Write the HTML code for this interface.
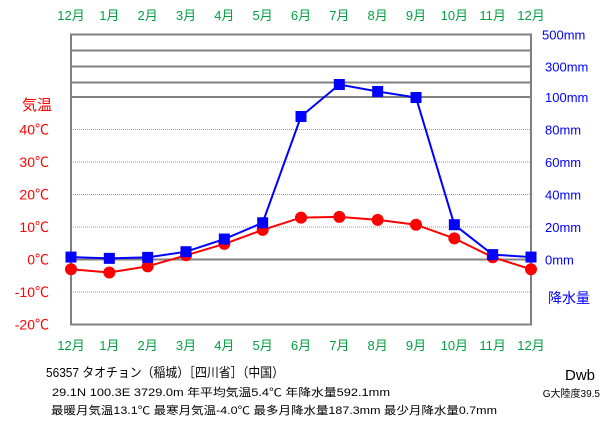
<!DOCTYPE html>
<html><head><meta charset="utf-8"><style>
body{margin:0;background:#fff;}
svg text{font-family:"Liberation Sans","Noto Sans CJK JP",sans-serif;}
</style></head><body>
<svg id="chart" width="611" height="425" xmlns="http://www.w3.org/2000/svg">
<g id="grid"></g>
<g id="series"></g>
<g id="labels"></g>
</svg>
<script>
const months = ["12月","1月","2月","3月","4月","5月","6月","7月","8月","9月","10月","11月","12月"];
const temps = [-3.0,-4.0,-2.1,1.3,4.8,9.1,12.9,13.1,12.2,10.7,6.5,0.7,-3.0];
const precip = [1.5,0.7,1.3,4.8,12.6,22.6,88,187.3,144,106,21.4,3,1.5];
const tempTicks = [40,30,20,10,0,-10,-20];
const precipLowTicks = [80,60,40,20,0];
const precipHighTicks = [100,300,500];

const NS="http://www.w3.org/2000/svg";
const L=71,R=531,Y0=259.5;
const xOf=i=>L+i*(R-L)/(months.length-1);
const yT=t=>Y0-t*3.25;
const yP=p=>p<=100?Y0-p*1.625:98.5-(p-100)*0.16;
function mk(tag,attrs,parent){const e=document.createElementNS(NS,tag);for(const k in attrs)e.setAttribute(k,attrs[k]);parent.appendChild(e);return e;}
const grid=document.getElementById('grid'),ser=document.getElementById('series'),lab=document.getElementById('labels');

[40,30,20,10,-10].forEach(t=>{
 const l=mk('line',{x1:L,x2:R,y1:yT(t),y2:yT(t),stroke:'#999','stroke-dasharray':'1,1','stroke-width':1},grid);
 
 
});
[100,200,300,400].forEach(p=>{
 const l=mk('line',{x1:L,x2:R,y1:yP(p),y2:yP(p),stroke:'#808080','stroke-width':2},grid);
 
 
});
const z=mk('line',{x1:L,x2:R,y1:Y0,y2:Y0,stroke:'#808080','stroke-width':2},grid);


const fr=mk('rect',{x:L,y:yP(500),width:R-L,height:yT(-20)-yP(500),fill:'none',stroke:'#808080','stroke-width':2},grid);



const tl=mk('polyline',{points:temps.map((t,i)=>xOf(i)+','+yT(t)).join(' '),fill:'none',stroke:'#f00','stroke-width':2},ser);


temps.forEach((t,i)=>{const c=mk('circle',{cx:xOf(i),cy:yT(t),r:6,fill:'#f00'},ser);
 
 });
const pl=mk('polyline',{points:precip.map((p,i)=>xOf(i)+','+yP(p)).join(' '),fill:'none',stroke:'#00f','stroke-width':2},ser);


precip.forEach((p,i)=>{const r=mk('rect',{x:xOf(i)-5.5,y:yP(p)-5.5,width:11,height:11,fill:'#00f'},ser);
 
 });

function txt(s,attrs,name){const t=mk('text',attrs,lab);t.textContent=s;return t;}
months.forEach((m,i)=>{
 txt(m,{x:xOf(i),y:20,'text-anchor':'middle','font-size':13,fill:'#00a040'},'top-month-label');
 txt(m,{x:xOf(i),y:350,'text-anchor':'middle','font-size':13,fill:'#00a040'},'bottom-month-label');
});
tempTicks.forEach(t=>txt(t+'℃',{x:49,y:yT(t)+5,'text-anchor':'end','font-size':14,fill:'#f00'},'temp-tick-label'));
txt('気温',{x:22,y:110,'font-size':15,fill:'#f00'},'temp-axis-title');
precipLowTicks.forEach(p=>txt(p+'mm',{x:545,y:yP(p)+5,'font-size':13,fill:'#00f'},'precip-tick-label'));
precipHighTicks.forEach(p=>txt(p+'mm',{x:p===500?542:545,y:yP(p)+5,'font-size':13,fill:'#00f'},'precip-tick-label'));
txt('降水量',{x:548,y:303,'font-size':14,fill:'#00f'},'precip-axis-title');
txt('56357  タオチョン（稲城）［四川省］（中国）',{x:46,y:377,'font-size':13,fill:'#000',textLength:238,lengthAdjust:'spacingAndGlyphs'},'station-title');
txt('29.1N  100.3E  3729.0m 年平均気温5.4℃  年降水量592.1mm',{x:52,y:396,'font-size':11,fill:'#000',textLength:338,lengthAdjust:'spacingAndGlyphs'},'station-stats');
txt('最暖月気温13.1℃ 最寒月気温-4.0℃ 最多月降水量187.3mm 最少月降水量0.7mm',{x:51,y:414,'font-size':11,fill:'#000',textLength:446,lengthAdjust:'spacingAndGlyphs'},'station-extremes');
txt('Dwb',{x:595,y:380,'text-anchor':'end','font-size':15,fill:'#000'},'climate-class');
txt('G大陸度39.5',{x:600,y:397,'text-anchor':'end','font-size':10,fill:'#000'},'continentality');
</script>
</body></html>
